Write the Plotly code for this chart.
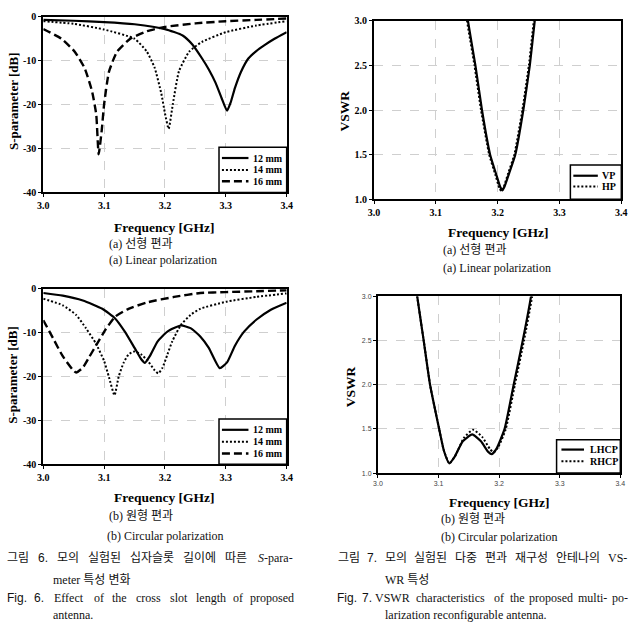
import plotly.graph_objects as go

# ---------------- data ----------------
# Fig 6(a): S-parameter, linear polarization
freq_a_12 = [3.00, 3.05, 3.10, 3.15, 3.20, 3.229, 3.245, 3.261, 3.272, 3.283, 3.293, 3.302, 3.308, 3.315, 3.325, 3.337, 3.35, 3.363, 3.38, 3.40]
s_a_12 = [-0.7, -0.9, -1.2, -1.7, -2.8, -4.25, -6.3, -9.5, -12.0, -15.0, -18.5, -21.4, -19.5, -16.2, -12.5, -9.5, -7.8, -6.5, -5.0, -3.5]
freq_a_14 = [3.00, 3.05, 3.10, 3.15, 3.17, 3.183, 3.194, 3.20, 3.206, 3.213, 3.223, 3.24, 3.261, 3.30, 3.35, 3.40]
s_a_14 = [-1.0, -1.6, -2.9, -5.0, -7.9, -11.6, -17.5, -22.0, -25.5, -19.8, -12.4, -7.9, -5.7, -3.5, -2.0, -1.0]
freq_a_16 = [3.00, 3.03, 3.052, 3.068, 3.08, 3.087, 3.091, 3.096, 3.10, 3.108, 3.121, 3.143, 3.17, 3.20, 3.25, 3.30, 3.35, 3.40]
s_a_16 = [-2.8, -5.0, -8.0, -11.7, -16.9, -22.2, -31.3, -25.9, -19.9, -12.5, -8.0, -5.0, -3.3, -2.3, -1.5, -1.0, -0.7, -0.4]

# Fig 6(b): S-parameter, circular polarization
freq_b_12 = [3.00, 3.032, 3.065, 3.097, 3.118, 3.134, 3.15, 3.161, 3.167, 3.175, 3.188, 3.204, 3.226, 3.242, 3.258, 3.272, 3.29, 3.302, 3.315, 3.33, 3.35, 3.374, 3.40]
s_b_12 = [-1.0, -1.6, -2.7, -4.6, -6.8, -9.8, -13.5, -16.1, -16.9, -15.4, -12.0, -9.8, -8.4, -9.0, -10.9, -13.5, -18.1, -16.8, -13.0, -9.8, -7.1, -4.8, -3.2]
freq_b_14 = [3.00, 3.032, 3.054, 3.07, 3.086, 3.10, 3.108, 3.117, 3.124, 3.132, 3.14, 3.15, 3.161, 3.172, 3.183, 3.189, 3.196, 3.204, 3.212, 3.226, 3.242, 3.258, 3.30, 3.35, 3.40]
s_b_14 = [-2.3, -3.8, -6.0, -9.0, -12.4, -16.5, -20.2, -24.3, -20.0, -16.9, -15.0, -14.3, -15.0, -16.5, -18.6, -19.3, -18.0, -15.0, -12.0, -8.3, -6.0, -4.6, -3.0, -1.9, -1.1]
freq_b_16 = [3.00, 3.016, 3.032, 3.048, 3.054, 3.065, 3.075, 3.089, 3.102, 3.118, 3.14, 3.172, 3.215, 3.258, 3.30, 3.35, 3.40]
s_b_16 = [-7.2, -11.3, -15.4, -18.4, -19.1, -18.0, -15.7, -12.4, -9.4, -6.4, -4.6, -3.1, -1.9, -1.0, -0.8, -0.6, -0.4]

# Fig 7(a): VSWR, linear polarization
freq_vp = [3.145, 3.1519, 3.164, 3.1746, 3.1878, 3.198, 3.204, 3.2075, 3.211, 3.218, 3.2285, 3.2415, 3.252, 3.26, 3.267]
vswr_vp = [3.4, 3.0, 2.5, 2.0, 1.5, 1.27, 1.14, 1.1, 1.14, 1.28, 1.5, 2.0, 2.5, 3.0, 3.4]
freq_hp = [3.1435, 3.1504, 3.1625, 3.1731, 3.1863, 3.1965, 3.2025, 3.206, 3.2095, 3.2165, 3.227, 3.24, 3.2505, 3.2585, 3.2655]
vswr_hp = [3.4, 3.0, 2.5, 2.0, 1.5, 1.27, 1.13, 1.09, 1.13, 1.28, 1.5, 2.0, 2.5, 3.0, 3.4]

# Fig 7(b): VSWR, circular polarization
freq_lhcp = [3.055, 3.0648, 3.0755, 3.086, 3.101, 3.109, 3.1177, 3.127, 3.14, 3.1555, 3.17, 3.182, 3.188, 3.196, 3.209, 3.224, 3.239, 3.2526, 3.26]
vswr_lhcp = [3.5, 3.0, 2.5, 2.0, 1.5, 1.25, 1.11, 1.19, 1.36, 1.437, 1.36, 1.24, 1.215, 1.28, 1.5, 2.0, 2.5, 3.0, 3.4]
freq_rhcp = [3.055, 3.0648, 3.0755, 3.086, 3.101, 3.109, 3.118, 3.128, 3.142, 3.157, 3.172, 3.185, 3.191, 3.199, 3.211, 3.226, 3.241, 3.2545, 3.262]
vswr_rhcp = [3.5, 3.0, 2.5, 2.0, 1.5, 1.25, 1.11, 1.2, 1.4, 1.49, 1.41, 1.27, 1.235, 1.3, 1.5, 2.0, 2.5, 3.0, 3.4]

# ticks
freq_ticks = [3.0, 3.1, 3.2, 3.3, 3.4]
freq_ticktext = ["3.0", "3.1", "3.2", "3.3", "3.4"]
s_ticks = [0, -10, -20, -30, -40]
s_ticktext = ["0", "-10", "-20", "-30", "-40"]
vswr_ticks = [1.0, 1.5, 2.0, 2.5, 3.0]
vswr_ticktext = ["1.0", "1.5", "2.0", "2.5", "3.0"]

legend_s = ["12 mm", "14 mm", "16 mm"]
legend_lp = ["VP", "HP"]
legend_cp = ["LHCP", "RHCP"]

# ---------------- layout helpers ----------------
W, H = 644, 639
SERIF = "Liberation Serif, Times New Roman, serif"
SANS = "Liberation Sans, Arial, sans-serif"
MIX = "Liberation Serif, Noto Sans CJK KR, serif"

def px(x):
    return x / W

def py(y):
    return 1 - y / H

SOLID = dict(color="black", width=2.2, dash="solid")
DOT = dict(color="black", width=2.0, dash="2px,2px")
DASH = dict(color="black", width=2.4, dash="8px,4px")

fig = go.Figure()

def add(xs, ys, ax, style, smooth=0.5):
    n = "" if ax == 1 else str(ax)
    fig.add_trace(go.Scatter(
        x=xs, y=ys, xaxis="x" + n, yaxis="y" + n, mode="lines",
        line=dict(shape="spline", smoothing=smooth, **style),
        showlegend=False, hoverinfo="skip"))

add(freq_a_12, s_a_12, 1, SOLID)
add(freq_a_14, s_a_14, 1, DOT)
add(freq_a_16, s_a_16, 1, DASH)
add(freq_hp, vswr_hp, 2, DOT, 0.4)
add(freq_vp, vswr_vp, 2, SOLID, 0.4)
add(freq_b_12, s_b_12, 3, SOLID)
add(freq_b_14, s_b_14, 3, DOT)
add(freq_b_16, s_b_16, 3, DASH)
add(freq_rhcp, vswr_rhcp, 4, DOT)
add(freq_lhcp, vswr_lhcp, 4, SOLID)

doms = {
    1: ([38, 286], [11, 190]),
    2: ([375, 627], [15, 197]),
    3: ([38, 286], [288, 467]),
    4: ([379, 626], [296, 476]),
}

bold_tick = dict(family=SERIF, size=10, color="black", weight="bold")
small_tick = dict(family=SANS, size=7, color="#444444")

layout = dict(
    width=W, height=H, margin=dict(l=0, r=0, t=0, b=0),
    paper_bgcolor="white", plot_bgcolor="white", showlegend=False,
)

for i, (dx, dy) in doms.items():
    n = "" if i == 1 else str(i)
    tf = small_tick if i == 4 else bold_tick
    common = dict(showline=True, linecolor="black", linewidth=2, mirror=True,
                  showgrid=True, gridcolor="#cfcfcf", griddash="dash", gridwidth=1,
                  zeroline=False, ticks="outside", ticklen=3, tickwidth=1,
                  tickcolor="black", tickfont=tf)
    layout["xaxis" + n] = dict(common, domain=[px(dx[0]), px(dx[1])], range=[3.0, 3.4],
                               tickvals=freq_ticks, ticktext=freq_ticktext,
                               anchor="y" + n)
    if i in (1, 3):
        yr, tv, tt = [-40, 0], s_ticks, s_ticktext
    else:
        yr, tv, tt = [1.0, 3.0], vswr_ticks, vswr_ticktext
    layout["yaxis" + n] = dict(common, domain=[py(dy[1]), py(dy[0])], range=yr,
                               tickvals=tv, ticktext=tt, anchor="x" + n)

fig.update_layout(**layout)

# ---------------- legends (drawn manually) ----------------
shapes = []
annots = []

def legend(ax, box_x0, box_y1, lx0, lx1, tx, rows, labels, styles):
    n = "" if ax == 1 else str(ax)
    xr, yr = "x" + n + " domain", "y" + n + " domain"
    shapes.append(dict(type="rect", xref=xr, yref=yr, x0=box_x0, x1=1, y0=0, y1=box_y1,
                       fillcolor="white", line=dict(color="black", width=1.5)))
    for r, lab, st in zip(rows, labels, styles):
        shapes.append(dict(type="line", xref=xr, yref=yr, x0=lx0, x1=lx1, y0=r, y1=r,
                           line=dict(color="black", width=st["width"], dash=st["dash"])))
        annots.append(dict(xref=xr, yref=yr, x=tx, y=r, text=lab, showarrow=False,
                           xanchor="left", yanchor="middle",
                           font=dict(family=SERIF, size=10, color="black", weight="bold")))

legend(1, 0.722, 0.257, 0.734, 0.843, 0.855, [0.196, 0.128, 0.064], legend_s, [SOLID, DOT, DASH])
legend(2, 0.794, 0.192, 0.806, 0.905, 0.915, [0.132, 0.072], legend_lp, [SOLID, DOT])
legend(3, 0.722, 0.257, 0.734, 0.843, 0.855, [0.196, 0.128, 0.061], legend_s, [SOLID, DOT, DASH])
legend(4, 0.737, 0.189, 0.757, 0.850, 0.866, [0.133, 0.067], legend_cp, [SOLID, DOT])

# ---------------- titles & captions ----------------
def text(x, y, s, size, family=MIX, anchor="center", bold=False, angle=0, color="#111111"):
    f = dict(family=family, size=size, color=color)
    if bold:
        f["weight"] = "bold"
    annots.append(dict(xref="paper", yref="paper", x=px(x), y=py(y), text=s,
                       showarrow=False, xanchor=anchor, yanchor="middle", borderpad=0,
                       textangle=angle, font=f))

# axis titles
text(7, 97, "S-parameter [dB]", 13, SERIF, bold=True, angle=-90, color="black")
text(7, 376, "S-parameter [dB]", 13, SERIF, bold=True, angle=-90, color="black")
text(345, 107, "VSWR", 13.5, SERIF, bold=True, angle=-90, color="black")
text(351, 388, "VSWR", 13.5, SERIF, bold=True, angle=-90, color="black")
text(162, 226, "Frequency [GHz]", 13.5, SERIF, bold=True, color="black")
text(502, 231, "Frequency [GHz]", 13.5, SERIF, bold=True, color="black")
text(162, 501, "Frequency [GHz]", 13.5, SERIF, bold=True, color="black")
text(503, 506, "Frequency [GHz]", 13.5, SERIF, bold=True, color="black")

# sub-captions
text(104, 243, "(a) 선형 편과", 12, anchor="left")
text(104, 259, "(a) Linear polarization", 12, anchor="left")
text(444, 249, "(a) 선형 편과", 12, anchor="left")
text(444, 267, "(a) Linear polarization", 12, anchor="left")
text(104, 520, "(b) 원형 편과", 12, anchor="left")
text(102, 540, "(b) Circular polarization", 12, anchor="left")
text(442, 523, "(b) 원형 편과", 12, anchor="left")
text(442, 541, "(b) Circular polarization", 12, anchor="left")

# justified caption lines
def cw(ch, size, fam):
    if "\uac00" <= ch <= "\ud7a3":
        return size * 0.92
    if ch in ".,":
        return size * 0.25
    if ch == "-":
        return size * 0.33
    if ch.isdigit():
        return size * 0.5
    if ch.isupper():
        return size * (0.67 if fam == SANS else 0.66)
    if ch in "il":
        return size * 0.27
    if ch in "mw":
        return size * 0.75
    return size * (0.55 if fam == SANS else 0.45)

def justify(words, x0, x1, y, size):
    widths = []
    for w, plain, fam in words:
        widths.append(sum(cw(c, size, fam) for c in plain))
    gap = (x1 - x0 - sum(widths)) / (len(words) - 1)
    x = x0
    for (w, plain, fam), wd in zip(words, widths):
        text(x + wd / 2, y, w, size, fam)
        x += wd + gap

K = MIX
justify([("그림", "그림", K), ("6.", "6.", SANS), ("모의", "모의", K), ("실험된", "실험된", K),
         ("십자슬롯", "십자슬롯", K), ("길이에", "길이에", K), ("따른", "따른", K),
         ("<i>S</i>-para-", "S-para-", SERIF)], 1, 293, 563, 12)
text(47, 585, "meter 특성 변화", 12, anchor="left")
justify([("Fig.", "Fig.", SANS), ("6.", "6.", SANS), ("Effect", "Effect", SERIF), ("of", "of", SERIF),
         ("the", "the", SERIF), ("cross", "cross", SERIF), ("slot", "slot", SERIF),
         ("length", "length", SERIF), ("of", "of", SERIF), ("proposed", "proposed", SERIF)],
        1, 293, 603, 12)
text(47, 621, "antenna.", 12, SERIF, anchor="left")

justify([("그림", "그림", K), ("7.", "7.", SANS), ("모의", "모의", K), ("실험된", "실험된", K),
         ("다중", "다중", K), ("편과", "편과", K), ("재구성", "재구성", K),
         ("안테나의", "안테나의", K), ("VS-", "VS-", SERIF)], 338, 633, 563, 12)
text(385, 585, "WR 특성", 12, anchor="left")
justify([("Fig.", "Fig.", SANS), ("7.", "7.", SANS), ("VSWR", "VSWR", SERIF),
         ("characteristics", "characteristics", SERIF), ("of", "of", SERIF), ("the", "the", SERIF),
         ("proposed", "proposed", SERIF), ("multi-", "multi-", SERIF), ("po-", "po-", SERIF)],
        337, 633, 603, 12)
text(385, 621, "larization reconfigurable antenna.", 12, SERIF, anchor="left")

fig.update_layout(shapes=shapes, annotations=annots)
fig.write_html("out.html")
